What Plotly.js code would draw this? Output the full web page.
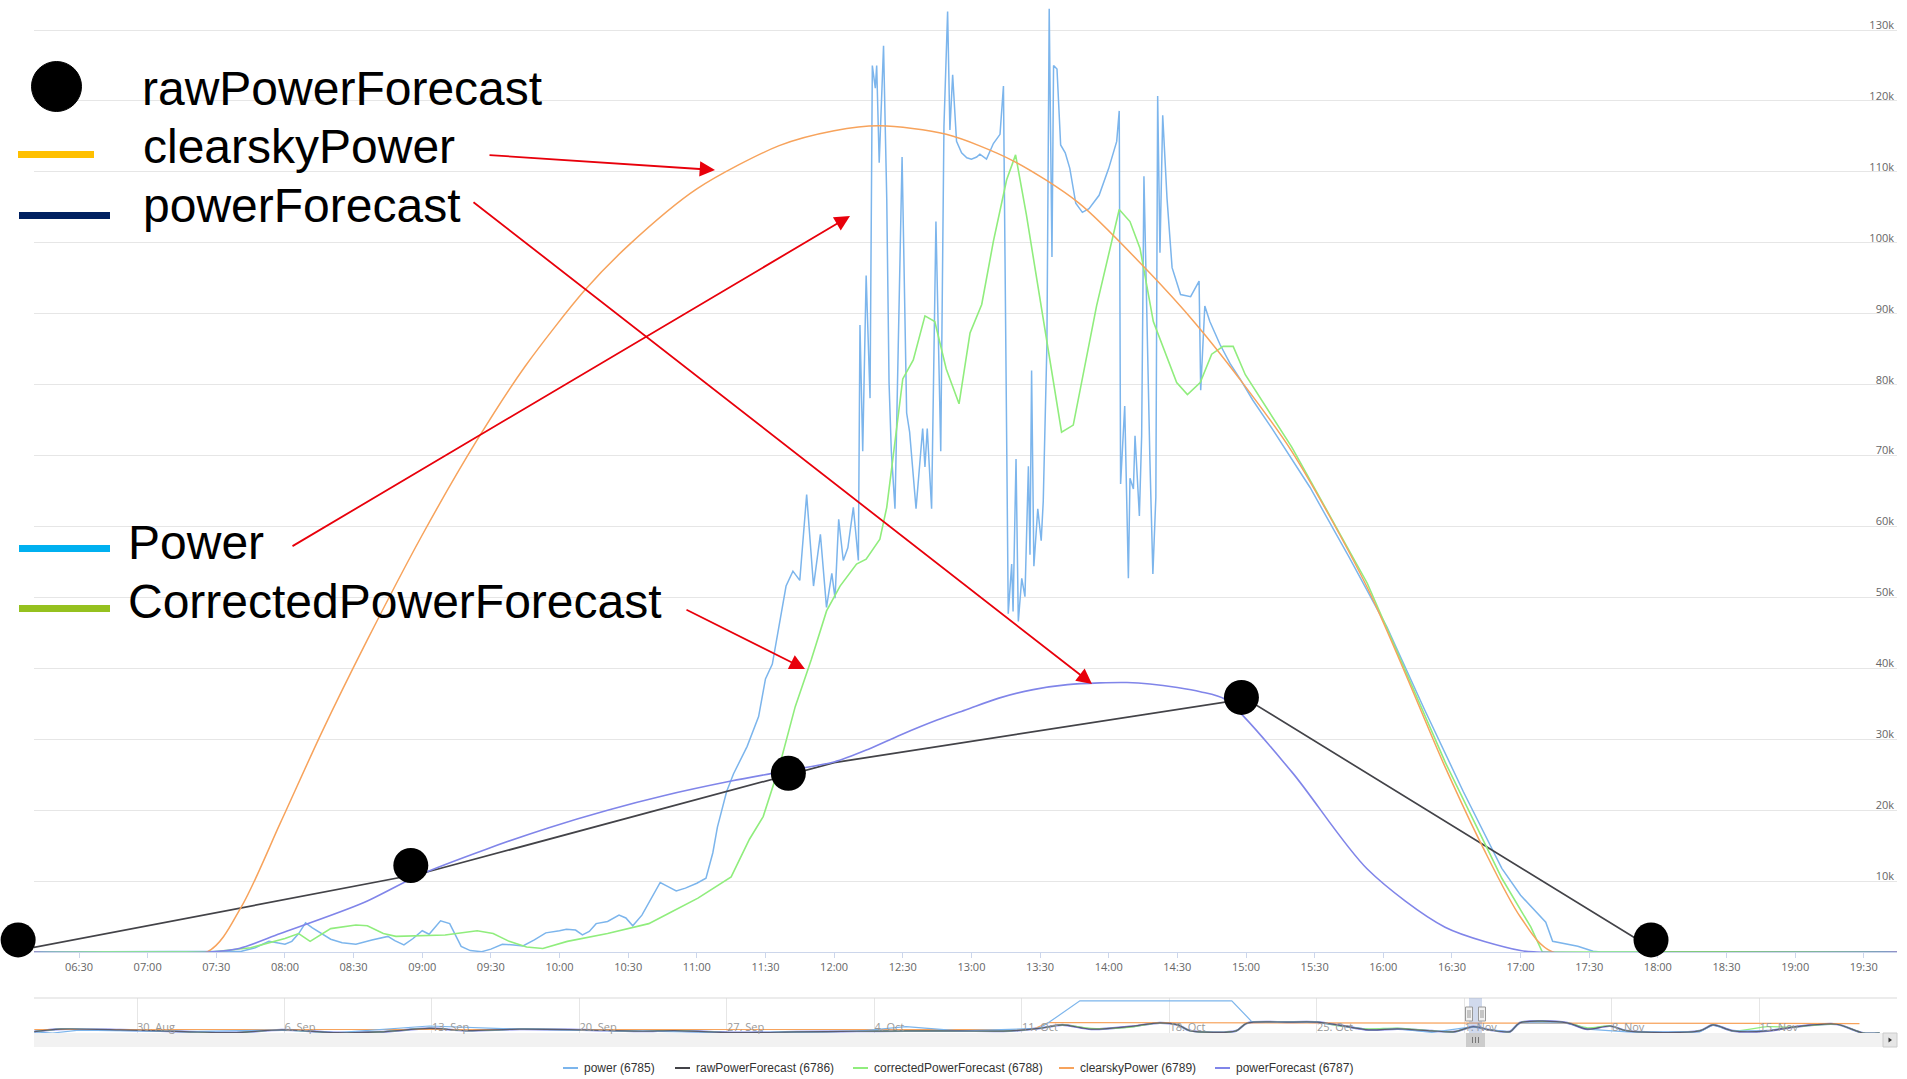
<!DOCTYPE html>
<html>
<head>
<meta charset="utf-8">
<script src="https://cdn.plot.ly/plotly-3.0.1.min.js"></script>
<style>
html,body{margin:0;padding:0;background:#ffffff;}
#chart{width:1907px;height:1079px;}
</style>
</head>
<body>
<div id="chart"></div>
<script>
// ---------------- DATA ----------------
const day = '2016-11-01';

const powerTimes = ['06:10','07:26','07:35','07:41','07:47','07:53','08:00','08:03','08:06','08:09','08:12','08:16','08:20','08:25','08:31','08:38','08:45','08:48','08:52','08:56','09:00','09:03','09:08','09:12','09:15','09:17','09:21','09:26','09:30','09:35','09:40','09:44','09:49','09:54','10:00','10:03','10:07','10:10','10:13','10:16','10:21','10:26','10:29','10:32','10:36','10:39','10:44','10:47','10:51','10:55','11:00','11:04','11:07','11:09','11:13','11:16','11:19','11:22','11:27','11:30','11:33','11:36','11:39','11:42','11:45','11:48','11:51','11:54','11:56:40','11:59','12:00:24','12:02','12:04','12:06','12:08:24','12:10:36','12:11:18','12:12:30','12:14','12:15:42','12:16:42','12:18','12:18:36','12:19:42','12:21:36','12:23','12:24','12:25','12:26:36','12:28','12:29:42','12:31:42','12:33','12:35:48','12:38:42','12:39:42','12:40:42','12:42:36','12:44:30','12:46:36','12:48','12:49:36','12:50:36','12:51:48','12:53:30','12:55:42','12:58','13:00','13:02:18','13:03:42','13:06:36','13:09:36','13:12:30','13:14','13:15:24','13:16:06','13:17:36','13:18:12','13:19:30','13:20:30','13:22','13:23:24','13:24:54','13:25:36','13:26:18','13:27:18','13:29','13:30:30','13:31:24','13:33','13:34','13:35:12','13:35:54','13:37:24','13:39','13:41','13:43','13:45:36','13:48:30','13:51:24','13:55:48','14:00','14:03:30','14:04:36','14:05:12','14:07','14:08:36','14:09:18','14:10:48','14:11:30','14:13:24','14:14:24','14:15:24','14:16:36','14:18','14:19:18','14:20:36','14:21:24','14:22:24','14:23:36','14:25:30','14:27:42','14:31:24','14:35:48','14:38:24','14:39:30','14:40:12','14:42','14:44:12','14:48:36','14:53','14:57:24','15:03','15:11:24','15:28','15:45','16:01:36','16:18','16:35','16:51:48','17:00','17:06:48','17:11','17:14','17:25','17:31:42','17:35','19:44:30'];
const powerValues = [0,0,50,100,600,1500,1100,1500,2600,4100,3400,2600,1800,1300,1100,1700,2200,1600,1000,1900,3000,2500,4400,4000,2000,800,200,50,400,1100,1000,850,1700,2700,3000,3200,3100,2400,2900,4000,4300,5200,4800,3700,5200,6900,9800,9300,8600,9000,9700,10400,14000,17600,22600,25100,27000,29000,33200,38500,40600,46000,51600,53700,52400,64500,51600,58900,48600,53400,49900,61000,55200,57000,62700,55200,88400,70600,95400,78100,125000,121800,125000,111300,127800,106200,80300,70600,62500,85000,112100,76000,73300,62500,73800,68400,73800,62500,103000,70600,116400,132600,115900,123700,114300,112700,112000,111800,112100,112500,111800,114000,115300,122100,74900,47700,54700,48000,69500,46600,52700,50100,68500,56000,82000,54400,62500,58000,63600,85700,133000,98000,125000,124500,113800,112700,110500,105600,104300,104800,106700,110500,114300,118600,66000,77000,52700,66800,65300,72800,61500,72800,109400,88400,69500,53300,64100,120700,98600,118000,106200,96500,92700,92400,94000,94600,79200,91100,88900,85700,83000,80800,77800,73800,65500,55700,45800,34200,22600,11800,8000,5600,4200,1500,800,100,0,0];

const rawTimes = ['06:00','09:00','12:00','15:00','18:00','19:44:30'];
const rawValues = [0,11100,26700,35700,0,0];

const correctedTimes = ['06:10','07:28','07:45','08:00','08:06','08:11','08:20','08:31','08:36','08:43','08:48:30','09:03','09:10','09:24','09:31','09:38','09:45:36','09:52:42','10:03:24','10:21','10:39','10:48','11:00:30','11:15','11:23','11:29','11:36','11:43','11:50','11:56:42','12:02:36','12:09:48','12:14','12:20','12:23','12:26','12:30','12:34:36','12:39:42','12:44','12:49','12:54:36','12:59:24','13:04:30','13:09:36','13:15:24','13:19:18','13:24','13:33','13:39:24','13:44:30','13:54:42','14:04:36','14:09:18','14:13:42','14:19:30','14:29:42','14:34:24','14:40','14:45','14:50','14:54:24','14:59:42','15:20','15:53','16:27','16:51:48','17:04:30','17:09:30','19:44:30'];
const correctedValues = [0,0,600,1900,2600,1500,3300,3800,3700,2600,2200,2300,2400,3000,2600,1500,700,500,1500,2600,4000,5500,7600,10600,15900,19100,26100,34600,41200,48100,51600,54700,55400,58200,62700,70400,80800,83500,89700,88900,82200,77300,87300,91300,100200,108900,112400,104000,85700,73300,74300,91100,104700,103000,99200,88900,80300,78600,80300,84300,85400,85400,81400,71200,52000,26800,10400,3500,0,0];

const clearskyTimes = ['06:10','07:26','07:41','07:58','08:16','08:36','09:00','09:24','09:45','10:11','10:30','11:00','11:36','12:00','12:20','12:49','13:18','13:47','14:16','14:38','14:57','15:20','15:53','16:27','16:43','17:00','17:14','19:44:30'];
const clearskyValues = [0,0,6400,18200,30900,44000,58800,72200,82600,93300,99600,107600,113700,115800,116500,115300,111600,105600,96400,88600,80900,70600,51400,26100,15100,4900,0,0];

const forecastTimes = ['06:10','07:27','07:40','07:58','08:34','08:59','09:28','09:55','10:21','10:45','11:15','11:40','12:00','12:15','12:29','12:45','12:58','13:12','13:27','13:42','13:56','14:08','14:18','14:30','14:40','14:51','15:20','15:53','16:27','17:00','17:07','19:44:30'];
const forecastValues = [0,0,500,2600,6900,10900,14500,17500,20000,22000,24100,25600,26800,28600,30600,32700,34200,35800,37000,37700,37950,38000,37800,37300,36700,35600,25400,11700,3500,200,0,0];

// big black dots drawn over the raw forecast
const dotTimes = ['06:03:24','08:55','11:40','14:58','17:57'];
const dotValues = [1700,12200,25200,35900,1700];

// y axis ticks
const yTickVals = [0,10000,20000,30000,40000,50000,60000,70000,80000,90000,100000,110000,120000,130000];
const yTickText = ['0','10k','20k','30k','40k','50k','60k','70k','80k','90k','100k','110k','120k','130k'];

// navigator (relative heights within navigator strip)
const navDates = ['2016-08-25 03:00','2016-08-26 09:00','2016-08-29 05:00','2016-09-01 06:00','2016-09-03 13:00','2016-09-05 21:00','2016-09-08 12:00','2016-09-10 13:00','2016-09-12 21:00','2016-09-14 14:00','2016-09-17 04:00','2016-09-20 03:00','2016-09-23 00:00','2016-09-24 12:00','2016-09-27 09:00','2016-09-30 07:00','2016-10-03 04:00','2016-10-05 12:00','2016-10-08 01:00','2016-10-10 10:00','2016-10-11 19:00','2016-10-12 22:00','2016-10-14 07:00','2016-10-16 02:00','2016-10-17 13:00','2016-10-18 10:00','2016-10-18 23:00','2016-10-21 04:00','2016-10-21 16:00','2016-10-23 15:00','2016-10-25 00:00','2016-10-26 02:00','2016-10-27 11:00','2016-10-28 20:00','2016-10-30 11:00','2016-10-31 13:00','2016-11-01 10:00','2016-11-02 05:00','2016-11-03 04:00','2016-11-03 15:00','2016-11-05 21:00','2016-11-06 20:00','2016-11-07 22:00','2016-11-08 17:00','2016-11-12 04:00','2016-11-12 19:00','2016-11-13 18:00','2016-11-15 09:00','2016-11-16 14:00','2016-11-18 16:00','2016-11-19 22:00','2016-11-20 17:00'];
const navRawValues = [0.04,0.11,0.09,0.04,0.01,0.09,0.01,0.03,0.13,0.07,0.11,0.09,0.05,0.07,0.01,0.03,0.05,0.06,0.06,0.06,0.13,0.23,0.11,0.18,0.29,0.23,0.07,0.06,0.28,0.31,0.31,0.22,0.09,0.12,0.06,0.04,0.18,0.09,0.04,0.29,0.29,0.11,0.2,0.06,0.06,0.23,0.06,0.06,0.17,0.25,0.0,0.0];
const navCorrectedValues = [0.04,0.11,0.09,0.04,0.01,0.09,0.0,0.03,0.13,0.07,0.11,0.09,0.05,0.07,0.0,0.03,0.05,0.06,0.06,0.06,0.13,0.23,0.13,0.16,0.29,0.23,0.07,0.06,0.28,0.31,0.31,0.2,0.12,0.14,0.06,0.04,0.18,0.09,0.04,0.29,0.29,0.15,0.2,0.06,0.06,0.23,0.06,0.18,0.17,0.25,0.0,0.0];
const navPowerDates = ['2016-08-25 03:00','2016-08-26 00:00','2016-08-27 06:00','2016-09-01 06:00','2016-09-05 21:00','2016-09-08 12:00','2016-09-12 21:00','2016-09-17 04:00','2016-09-23 00:00','2016-09-27 09:00','2016-10-03 04:00','2016-10-05 12:00','2016-10-08 01:00','2016-10-11 19:00','2016-10-12 06:00','2016-10-13 18:00','2016-10-20 23:00','2016-10-21 22:00','2016-10-23 15:00','2016-10-25 00:00','2016-10-26 02:00','2016-10-27 11:00','2016-10-28 20:00','2016-10-30 11:00','2016-11-01 10:00','2016-11-02 05:00','2016-11-03 04:00','2016-11-03 15:00','2016-11-05 21:00','2016-11-06 20:00','2016-11-08 17:00','2016-11-12 04:00','2016-11-12 19:00','2016-11-13 18:00','2016-11-15 09:00'];
const navPowerValues = [0.03,0.0,0.08,0.04,0.09,0.01,0.2,0.11,0.05,0.01,0.05,0.18,0.06,0.13,0.29,0.92,0.92,0.32,0.31,0.31,0.22,0.09,0.12,0.02,0.18,0.09,0.04,0.29,0.29,0.11,0.03,0.03,0.23,0.06,0.06];
const navClearskyDates = ['2016-08-25 03:00','2016-10-11 12:00','2016-10-12 06:00','2016-11-19 18:00'];
const navClearskyValues = [0.1,0.1,0.3,0.27];
const navTicks = ['2016-08-30','2016-09-06','2016-09-13','2016-09-20','2016-09-27','2016-10-04','2016-10-11','2016-10-18','2016-10-25','2016-11-01','2016-11-08','2016-11-15'];

// legends text
const seriesNames = ['power (6785)','rawPowerForecast (6786)','correctedPowerForecast (6788)','clearskyPower (6789)','powerForecast (6787)'];
const overlayNames = ['rawPowerForecast','clearskyPower','powerForecast','Power','CorrectedPowerForecast'];

// ---------------- LAYOUT HELPERS ----------------
const W = 1907, H = 1079;
const X0 = 34, X1 = 1897, YB = 952;
const NAV_TOP = 998, NAV_BOT = 1033, SCR_BOT = 1047;
const px = x => x / W;
const py = y => 1 - y / H;
const T = arr => arr.map(t => day + ' ' + (t.length === 5 ? t + ':00' : t));

const X_START = day + ' 06:10:20', X_END = day + ' 19:44:30';
// same time scale as the main axis, extended to the left page edge (for the overlay dots)
const msSpan = new Date(X_END.replace(' ','T')) - new Date(X_START.replace(' ','T'));
const extStartMs = new Date(X_START.replace(' ','T')).getTime() - msSpan * X0 / (X1 - X0);
const pad = n => String(n).padStart(2,'0');
const dExt = new Date(extStartMs);
const X_EXT_START = day + ' ' + pad(dExt.getHours()) + ':' + pad(dExt.getMinutes()) + ':' + pad(dExt.getSeconds()) + '.' + String(dExt.getMilliseconds()).padStart(3,'0');

const colors = ['#7cb5ec','#434348','#90ed7d','#f7a35c','#8085e9'];

const traces = [
  {x:T(powerTimes), y:powerValues, type:'scatter', mode:'lines', line:{color:colors[0], width:1.5}},
  {x:T(rawTimes), y:rawValues, type:'scatter', mode:'lines', line:{color:colors[1], width:1.7}},
  {x:T(correctedTimes), y:correctedValues, type:'scatter', mode:'lines', line:{color:colors[2], width:1.6}},
  {x:T(clearskyTimes), y:clearskyValues, type:'scatter', mode:'lines', line:{color:colors[3], width:1.5, shape:'spline', smoothing:0.8}},
  {x:T(forecastTimes), y:forecastValues, type:'scatter', mode:'lines', line:{color:colors[4], width:1.6, shape:'spline', smoothing:0.8}},
  {x:T(dotTimes), y:dotValues, xaxis:'x3', yaxis:'y3', type:'scatter', mode:'markers', cliponaxis:false, marker:{color:'#000000', size:35}},
  // navigator
  {x:navDates, y:navRawValues, xaxis:'x2', yaxis:'y2', type:'scatter', mode:'lines', line:{color:colors[4], width:2.2, shape:'spline', smoothing:0.8}},
  {x:navDates, y:navCorrectedValues, xaxis:'x2', yaxis:'y2', type:'scatter', mode:'lines', line:{color:colors[2], width:1.2, shape:'spline', smoothing:0.8}},
  {x:navClearskyDates, y:navClearskyValues, xaxis:'x2', yaxis:'y2', type:'scatter', mode:'lines', line:{color:colors[3], width:1.2}},
  {x:navPowerDates, y:navPowerValues, xaxis:'x2', yaxis:'y2', type:'scatter', mode:'lines', line:{color:colors[0], width:1.2}},
  {x:navDates, y:navRawValues, xaxis:'x2', yaxis:'y2', type:'scatter', mode:'lines', line:{color:'#5b5b70', width:1.2, shape:'spline', smoothing:0.8}}
];

const shapes = [];
const annotations = [];

// navigator decorations
shapes.push({type:'line', xref:'paper', yref:'paper', x0:px(X0), x1:px(X1), y0:py(NAV_TOP), y1:py(NAV_TOP), line:{color:'#d9d9d9', width:1}});
shapes.push({type:'rect', xref:'paper', yref:'paper', x0:px(X0), x1:px(X1), y0:py(SCR_BOT), y1:py(NAV_BOT), fillcolor:'#f2f2f2', line:{width:0}, layer:'below'});
shapes.push({type:'rect', xref:'paper', yref:'paper', x0:px(1469), x1:px(1482), y0:py(NAV_BOT), y1:py(NAV_TOP), fillcolor:'rgba(102,133,194,0.3)', line:{width:0}});
shapes.push({type:'rect', xref:'paper', yref:'paper', x0:px(1466), x1:px(1485), y0:py(SCR_BOT), y1:py(NAV_BOT), fillcolor:'#cccccc', line:{width:0}});
[1472.5,1475.5,1478.5].forEach(x => shapes.push({type:'line', xref:'paper', yref:'paper', x0:px(x), x1:px(x), y0:py(1043), y1:py(1037), line:{color:'#777', width:1}}));
[1469,1482].forEach(x => {
  shapes.push({type:'rect', xref:'paper', yref:'paper', x0:px(x-3.5), x1:px(x+3.5), y0:py(1021), y1:py(1007), fillcolor:'#f2f2f2', line:{color:'#999', width:1}});
  shapes.push({type:'line', xref:'paper', yref:'paper', x0:px(x-1), x1:px(x-1), y0:py(1018), y1:py(1010), line:{color:'#999', width:1}});
  shapes.push({type:'line', xref:'paper', yref:'paper', x0:px(x+1), x1:px(x+1), y0:py(1018), y1:py(1010), line:{color:'#999', width:1}});
});
shapes.push({type:'rect', xref:'paper', yref:'paper', x0:px(1883), x1:px(X1), y0:py(SCR_BOT), y1:py(NAV_BOT), fillcolor:'#e6e6e6', line:{color:'#cccccc', width:1}});
shapes.push({type:'path', xref:'paper', yref:'paper', path:`M${px(1888.5)},${py(1037.5)} L${px(1892)},${py(1040)} L${px(1888.5)},${py(1042.5)} Z`, fillcolor:'#333', line:{width:0}});

// overlay legend (top-left)
shapes.push({type:'circle', xref:'paper', yref:'paper', x0:px(31.5), x1:px(81.5), y0:py(111.5), y1:py(61.5), fillcolor:'#000', line:{color:'#000', width:1}});
const overlayBars = [
  {x0:18, x1:94, y0:151, y1:158, c:'#FFC000'},
  {x0:19, x1:110, y0:212, y1:219, c:'#002060'},
  {x0:19, x1:110, y0:545, y1:552, c:'#00B0F0'},
  {x0:19, x1:110, y0:605, y1:612, c:'#95C11F'}
];
overlayBars.forEach(b => shapes.push({type:'rect', xref:'paper', yref:'paper', x0:px(b.x0), x1:px(b.x1), y0:py(b.y1), y1:py(b.y0), fillcolor:b.c, line:{width:0}}));
const overlayPos = [[140,88],[141,147],[141,205],[126,542],[126,601]];
overlayNames.forEach((n,i) => annotations.push({xref:'paper', yref:'paper', x:px(overlayPos[i][0]), y:py(overlayPos[i][1]), xanchor:'left', yanchor:'middle', text:n, showarrow:false, font:{family:'Liberation Sans, Arial, sans-serif', size:48, color:'#000'}}));

// red arrows
const arrows = [
  {tail:[488,155], head:[715,170]},
  {tail:[472,201], head:[1092,684]},
  {tail:[291,547], head:[850,216]},
  {tail:[685,609], head:[805,669]}
];
arrows.forEach(a => annotations.push({xref:'paper', yref:'paper', x:px(a.head[0]), y:py(a.head[1]), ax:a.tail[0]-a.head[0], ay:a.tail[1]-a.head[1], axref:'pixel', ayref:'pixel', text:'', showarrow:true, arrowhead:2, arrowsize:1.7, arrowwidth:1.8, arrowcolor:'#e8000b', standoff:0, startstandoff:0}));

// bottom legend
const legLine = [563,675,853,1059,1215];
const LEG_Y = 1068;
seriesNames.forEach((n,i) => {
  shapes.push({type:'line', xref:'paper', yref:'paper', x0:px(legLine[i]), x1:px(legLine[i]+15), y0:py(LEG_Y), y1:py(LEG_Y), line:{color:colors[i], width:2}});
  annotations.push({xref:'paper', yref:'paper', x:px(legLine[i]+19), y:py(LEG_Y), xanchor:'left', yanchor:'middle', text:n, showarrow:false, font:{family:'Liberation Sans, Arial, sans-serif', size:12, color:'#333'}});
});

const layout = {
  width:W, height:H,
  margin:{l:0, r:0, t:0, b:0},
  paper_bgcolor:'#ffffff', plot_bgcolor:'rgba(0,0,0,0)',
  showlegend:false, hovermode:false,
  font:{family:'Open Sans, sans-serif', size:11, color:'#666666'},
  xaxis:{type:'date', domain:[px(X0), px(X1)], anchor:'y', range:[X_START, X_END],
         tick0:day+' 06:30:00', dtick:1800000, tickformat:'%H:%M', ticks:'outside', ticklen:5, tickcolor:'#ccd6eb',
         showline:true, linecolor:'#ccd6eb', linewidth:1, showgrid:false, zeroline:false,
         tickfont:{family:'Open Sans, sans-serif', size:11, color:'#666666'}},
  yaxis:{domain:[py(YB), 1], anchor:'x', side:'right', range:[0,134240], tickvals:yTickVals, ticktext:yTickText,
         showgrid:true, gridcolor:'#e6e6e6', gridwidth:1, zeroline:false, showline:false, ticks:'',
         ticklabelposition:'inside', ticklabelshift:-5,
         tickfont:{family:'Open Sans, sans-serif', size:11, color:'#666666'}},
  xaxis3:{type:'date', domain:[0, px(X1)], anchor:'y3', range:[X_EXT_START, X_END], visible:false, showgrid:false, zeroline:false},
  yaxis3:{domain:[py(YB), 1], anchor:'x3', range:[0,134240], visible:false, showgrid:false, zeroline:false},
  xaxis2:{type:'date', domain:[px(X0), px(X1)], anchor:'y2', range:['2016-08-25 02:40','2016-11-21 12:45'],
          tickvals:navTicks, tickformat:'%-d. %b', ticklabelposition:'inside right', ticklabelstandoff:-6, ticks:'',
          showgrid:true, gridcolor:'#e6e6e6', showline:false, zeroline:false,
          tickfont:{family:'Open Sans, sans-serif', size:11, color:'#999999'}},
  yaxis2:{domain:[py(NAV_BOT), py(NAV_TOP)], anchor:'x2', range:[0,1], showgrid:false, showticklabels:false, zeroline:false, ticks:''},
  shapes:shapes,
  annotations:annotations
};

Plotly.newPlot('chart', traces, layout, {displayModeBar:false, staticPlot:true});
</script>
</body>
</html>
